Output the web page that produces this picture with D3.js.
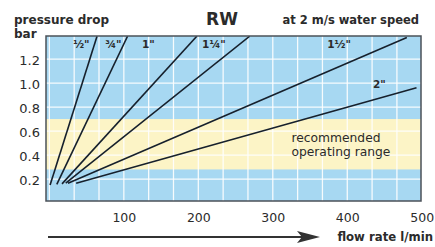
<!DOCTYPE html>
<html>
<head>
<meta charset="utf-8">
<script src="https://cdn.jsdelivr.net/npm/d3@7"></script>
<style>
  body { margin: 0; background: #fff; }
  svg { display: block; }
  text { font-family: "DejaVu Sans", sans-serif; fill: #2b2b2b; }
</style>
</head>
<body>
<svg id="chart" width="435" height="247"></svg>
<script>
// pipe sizes and the straight pressure drop lines (flow l/min, drop bar)
const pipeSizes = ['½"', '¾"', '1"', '1¼"', '1½"', '2"'];
const startFlow = [1, 10, 17, 22, 25, 36];
const startDrop = [0.15, 0.155, 0.16, 0.165, 0.165, 0.165];
const endFlow = [64, 105, 198, 269, 480, 493];
const endDrop = [1.39, 1.39, 1.39, 1.39, 1.38, 0.96];

// axis ticks
const flowTicks = [100, 200, 300, 400, 500];
const dropTicks = [0.2, 0.4, 0.6, 0.8, 1.0, 1.2];
const flowGrid = d3.range(0, 15).map(i => i * 100 / 3);

// recommended band (bar)
const rangeLow = 0.28;
const rangeHigh = 0.7;

// where the size labels sit (data units)
const labelFlow = [43, 86, 133, 221, 389, 443];
const labelDrop = [1.29, 1.29, 1.29, 1.29, 1.29, 0.955];

const svg = d3.select('#chart');
const margin = { top: 36, right: 14, bottom: 46, left: 46 };
const width = 435 - margin.left - margin.right;
const height = 247 - margin.top - margin.bottom;

const x = d3.scaleLinear().domain([-4.5, 499]).range([0, width]);
const y = d3.scaleLinear().domain([0.017, 1.392]).range([height, 0]);

const g = svg.append('g').attr('transform', `translate(${margin.left},${margin.top})`);

svg.append('defs').append('clipPath').attr('id', 'plot-clip')
  .append('rect').attr('width', width).attr('height', height);

// fond bleu + bande jaune
g.append('rect').attr('width', width).attr('height', height).attr('fill', '#a7d8f2');
g.append('rect')
  .attr('x', 0).attr('width', width)
  .attr('y', y(rangeHigh)).attr('height', y(rangeLow) - y(rangeHigh))
  .attr('fill', '#fcf4c6');

// grille blanche
g.append('g').selectAll('line').data(flowGrid).enter().append('line')
  .attr('x1', d => x(d)).attr('x2', d => x(d))
  .attr('y1', 0).attr('y2', height)
  .attr('stroke', '#fff').attr('stroke-width', 1.3).attr('opacity', 0.9);
g.append('g').selectAll('line').data(dropTicks).enter().append('line')
  .attr('y1', d => y(d)).attr('y2', d => y(d))
  .attr('x1', 0).attr('x2', width)
  .attr('stroke', '#fff').attr('stroke-width', 1.3).attr('opacity', 0.9);

// lignes de perte de charge
const lines = pipeSizes.map((s, i) => [[startFlow[i], startDrop[i]], [endFlow[i], endDrop[i]]]);
g.append('g').attr('clip-path', 'url(#plot-clip)')
  .selectAll('path').data(lines).enter().append('path')
  .attr('d', d3.line().x(d => x(d[0])).y(d => y(d[1])))
  .attr('fill', 'none').attr('stroke', '#16202c').attr('stroke-width', 1.6);

// cadre
g.append('rect').attr('width', width).attr('height', height)
  .attr('fill', 'none').attr('stroke', '#4b5158').attr('stroke-width', 1.5);

// étiquettes des diamètres
g.append('g').selectAll('text').data(pipeSizes).enter().append('text')
  .attr('x', (d, i) => x(labelFlow[i]))
  .attr('y', (d, i) => y(labelDrop[i]))
  .attr('text-anchor', 'middle')
  .style('font-size', '10.5px').style('font-weight', 'bold')
  .text(d => d);

// texte de la plage recommandée
g.append('text').attr('x', x(325)).attr('y', y(0.51)).style('font-size', '12.3px').text('recommended');
g.append('text').attr('x', x(325)).attr('y', y(0.51) + 14).style('font-size', '12.3px').text('operating range');

// axe Y
const yAxis = g.append('g').call(d3.axisLeft(y).tickValues(dropTicks).tickFormat(d3.format('.1f')).tickSize(0).tickPadding(6));
yAxis.select('.domain').remove();
yAxis.selectAll('text').style('font-size', '13px').attr('fill', '#2b2b2b').attr('dy', '0.4em');

// axe X
const xAxis = g.append('g').attr('transform', `translate(0,${height})`)
  .call(d3.axisBottom(x).tickValues(flowTicks).tickSize(0).tickPadding(12));
xAxis.select('.domain').remove();
xAxis.selectAll('text').style('font-size', '12.5px').attr('fill', '#2b2b2b');

// titres
svg.append('text').attr('x', 14).attr('y', 24).style('font-size', '12px').style('font-weight', 'bold').text('pressure drop');
svg.append('text').attr('x', 14).attr('y', 38).style('font-size', '12px').style('font-weight', 'bold').text('bar');
svg.append('text').attr('x', 222).attr('y', 25).attr('text-anchor', 'middle').style('font-size', '17px').style('font-weight', 'bold').text('RW');
svg.append('text').attr('x', 419).attr('y', 24).attr('text-anchor', 'end').style('font-size', '11.5px').style('font-weight', 'bold').text('at 2 m/s water speed');

// flèche du débit
const arrowY = 237;
svg.append('line').attr('x1', 48).attr('x2', 305).attr('y1', arrowY).attr('y2', arrowY)
  .attr('stroke', '#333').attr('stroke-width', 2);
svg.append('path')
  .attr('d', `M320,${arrowY} L297,${arrowY - 6} L302,${arrowY} L297,${arrowY + 6} Z`)
  .attr('fill', '#333');
svg.append('text').attr('x', 433).attr('y', 241).attr('text-anchor', 'end')
  .style('font-size', '11.7px').style('font-weight', 'bold').text('flow rate l/min');
</script>
</body>
</html>
